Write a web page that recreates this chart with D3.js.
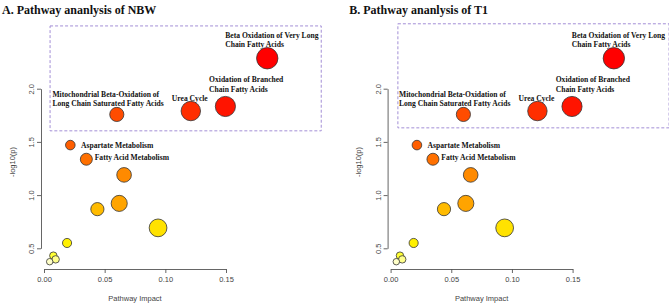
<!DOCTYPE html>
<html><head><meta charset="utf-8">
<script src="https://cdn.jsdelivr.net/npm/d3@7"></script>
<style>body{margin:0;background:#fff}svg{display:block}</style>
</head><body>
<svg id="c" width="669" height="303"></svg>
<script>
// ---- data ----
const panelTitles = ["A. Pathway ananlysis of NBW", "B. Pathway ananlysis of T1"];
const pathwayNames = [
  "Beta Oxidation of Very Long\nChain Fatty Acids",
  "Oxidation of Branched\nChain Fatty Acids",
  "Urea Cycle",
  "Mitochondrial Beta-Oxidation of\nLong Chain Saturated Fatty Acids",
  "Aspartate Metabolism",
  "Fatty Acid Metabolism",
  "", "", "", "", "", "", "", ""
];
const impactValues = [0.184, 0.1495, 0.121, 0.060, 0.0217, 0.0349, 0.066, 0.062, 0.044, 0.094, 0.019, 0.0077, 0.0096, 0.0047];
const logPValues   = [2.286, 1.833, 1.790, 1.758, 1.470, 1.337, 1.190, 0.922, 0.868, 0.692, 0.550, 0.431, 0.396, 0.374];
const bubbleSizes  = [0.89, 0.84, 0.81, 0.59, 0.40, 0.50, 0.61, 0.67, 0.55, 0.74, 0.38, 0.31, 0.31, 0.27];
const bubbleColors = ["#ff0000","#ff1400","#ff2e00","#ff4c00","#ff5e00","#ff7000","#ff8a00","#ffa400","#ffbb00","#ffe200","#fff000","#ffff33","#ffff8c","#ffffc8"];
const xTicks = [0, 0.05, 0.10, 0.15];
const yTicks = [0.5, 1.0, 1.5, 2.0];
const xTickLabels = ["0.00", "0.05", "0.10", "0.15"];
const yTickLabels = ["0.5", "1.0", "1.5", "2.0"];
// highlight box in data units [x0, x1, y0, y1] per panel
const boxA = [0.005, 0.2285, 1.604, 2.59];
const boxB = [0.006, 0.2295, 1.632, 2.61];
const boxes = [boxA, boxB];

// ---- layout ----
const labelOffsets = [[-42,-22.7],[-16.3,-26.7],[-19,-12.3],[-64.4,-20],[10.7,0],[8.4,-1.3]];
const svg = d3.select("#c");
const sizeScale = d3.scaleLinear().domain([0,1]).range([0,12]);

function panel(i, ox){
  const g = svg.append("g").attr("transform", `translate(${ox},0)`);
  const x = d3.scaleLinear().domain([0, 0.15]).range([44, 226]);
  const y = d3.scaleLinear().domain([0.5, 2.0]).range([248.3, 88.7]);
  const axCol = "#555";

  g.append("text").attr("x", 2 + (i ? 0.7 : 0)).attr("y", 13.5)
    .attr("font-family", "Liberation Serif").attr("font-weight", "bold")
    .attr("font-size", 12).attr("fill", "#111").text(panelTitles[i]);

  // x axis
  const xa = g.append("g").attr("transform", "translate(0,269)")
    .call(d3.axisBottom(x).tickValues(xTicks).tickFormat((d,k)=>xTickLabels[k]).tickSize(4).tickPadding(4).tickSizeOuter(0));
  // y axis
  const ya = g.append("g").attr("transform", "translate(41,0)")
    .call(d3.axisLeft(y).tickValues(yTicks).tickFormat((d,k)=>yTickLabels[k]).tickSize(4).tickSizeOuter(0));
  [xa, ya].forEach(a=>{
    a.select(".domain").attr("stroke", axCol).attr("stroke-width", 0.9);
    a.selectAll(".tick line").attr("stroke", axCol).attr("stroke-width", 0.9);
    a.selectAll("text").attr("font-family", "Liberation Sans").attr("font-size", 7.5).attr("fill", "#444");
  });
  ya.selectAll(".tick text").attr("x", null).attr("dy", null)
    .attr("transform", "translate(-9.5,0) rotate(-90)")
    .attr("text-anchor", "middle").attr("dominant-baseline", "central");

  g.append("text").attr("x", 135).attr("y", 301)
    .attr("text-anchor", "middle").attr("font-family", "Liberation Sans").attr("font-size", 7.5)
    .attr("fill", "#444").text("Pathway Impact");
  g.append("text").attr("transform", "translate(12,162) rotate(-90)")
    .attr("text-anchor", "middle").attr("dominant-baseline", "central")
    .attr("font-family", "Liberation Sans").attr("font-size", 7.5)
    .attr("fill", "#444").text("-log10(p)");

  const b = boxes[i];
  g.append("rect").attr("x", x(b[0])).attr("y", y(b[3]))
    .attr("width", x(b[1]) - x(b[0])).attr("height", y(b[2]) - y(b[3]))
    .attr("fill", "none").attr("stroke", "#a38fd6").attr("stroke-width", 1)
    .attr("stroke-dasharray", "3,2");

  const data = impactValues.map((v,k)=>({x:v, y:logPValues[k], s:bubbleSizes[k], c:bubbleColors[k], n:pathwayNames[k], k}));
  g.selectAll("circle.b").data(data).join("circle").attr("class","b")
    .attr("cx", d=>x(d.x)).attr("cy", d=>y(d.y)).attr("r", d=>sizeScale(d.s))
    .attr("fill", d=>d.c).attr("stroke", "#333").attr("stroke-width", 0.8);

  data.filter(d=>d.n).forEach(d=>{
    const off = labelOffsets[d.k];
    const t = g.append("text").attr("font-family", "Liberation Serif").attr("font-weight", "bold")
      .attr("font-size", 7.6).attr("fill", "#111");
    d.n.split("\n").forEach((line, li)=>{
      t.append("tspan").attr("x", x(d.x) + off[0]).attr("y", y(d.y) + off[1] + li*9.4)
        .attr("dominant-baseline", "central").text(line);
    });
  });
}
panel(0, 0);
panel(1, 346.6);
</script>
</body></html>
